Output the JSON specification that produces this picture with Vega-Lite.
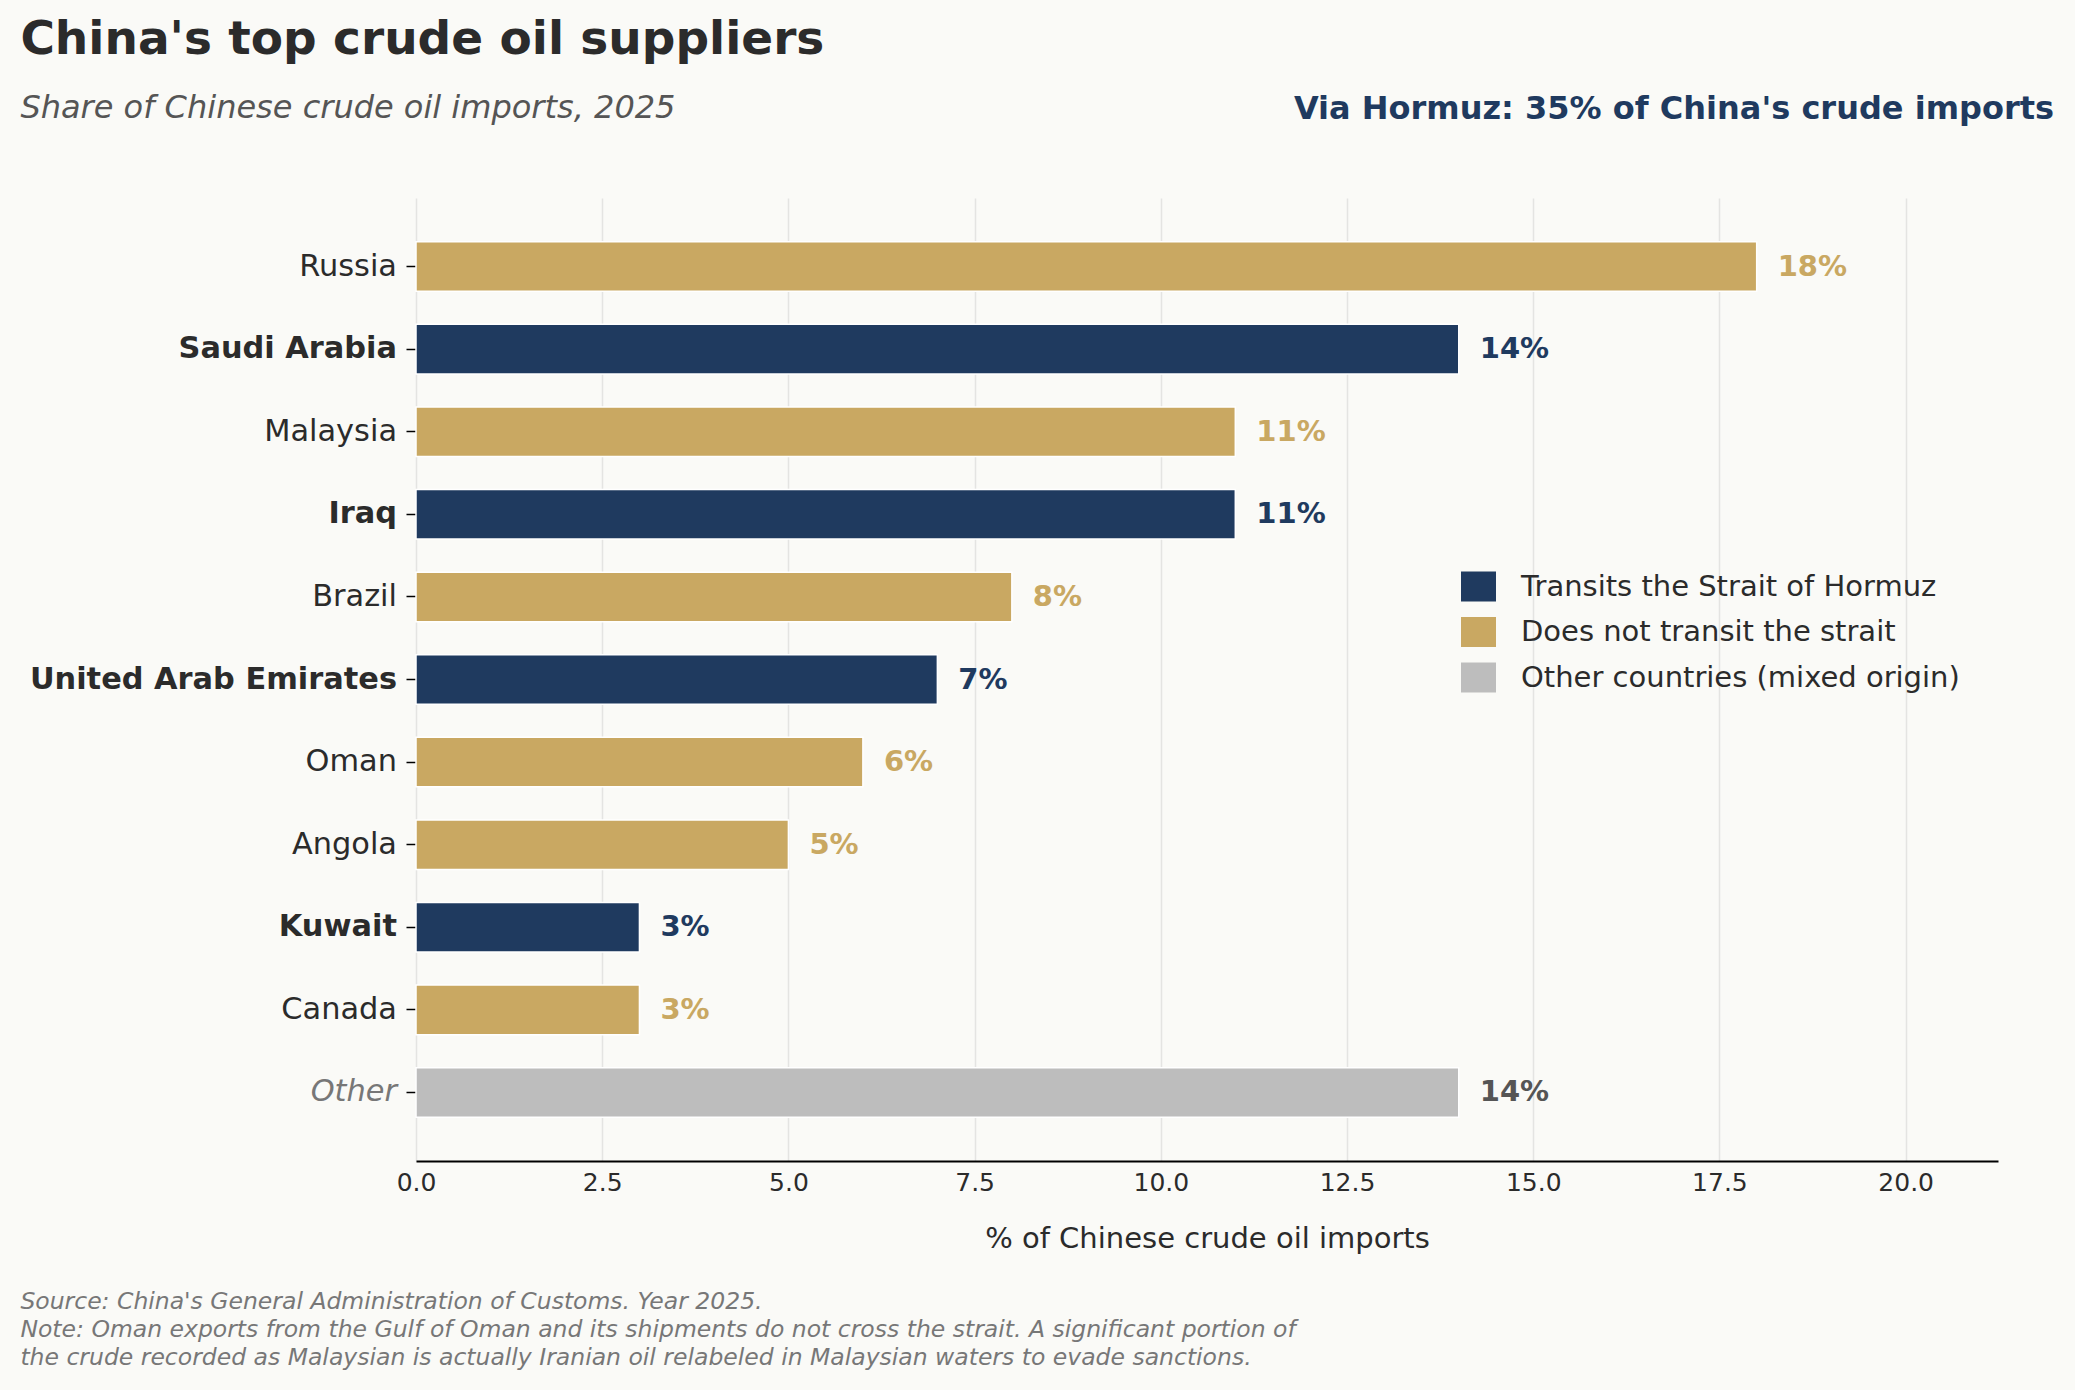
{
  "$schema": "https://vega.github.io/schema/vega-lite/v6.json",
  "background": "#fafaf7",
  "padding": {"left": 20, "top": 16, "right": 21, "bottom": 24},
  "title": {
    "text": [
      "Source: China's General Administration of Customs. Year 2025.",
      "Note: Oman exports from the Gulf of Oman and its shipments do not cross the strait. A significant portion of",
      "the crude recorded as Malaysian is actually Iranian oil relabeled in Malaysian waters to evade sanctions."
    ],
    "orient": "bottom",
    "anchor": "start",
    "frame": "bounds",
    "font": "DejaVu Sans",
    "fontSize": 23.5,
    "fontStyle": "italic",
    "fontWeight": "normal",
    "color": "#777777",
    "lineHeight": 28,
    "offset": 37
  },
  "vconcat": [
    {
      "title": {
        "text": "China's top crude oil suppliers",
        "subtitle": "Share of Chinese crude oil imports, 2025",
        "anchor": "start",
        "frame": "bounds",
        "font": "DejaVu Sans",
        "fontSize": 47,
        "fontWeight": "bold",
        "color": "#2b2b2b",
        "subtitleFont": "DejaVu Sans",
        "subtitleFontSize": 32,
        "subtitleFontStyle": "italic",
        "subtitleColor": "#555555",
        "subtitlePadding": 29,
        "dx": -9,
        "offset": -32
      },
      "vconcat": [
        {
          "title": {
            "text": "Via Hormuz: 35% of China's crude imports",
            "anchor": "end",
            "frame": "group",
            "font": "DejaVu Sans",
            "fontSize": 32,
            "fontWeight": "bold",
            "color": "#1f3a5f",
            "baseline": "alphabetic",
            "dx": 56,
            "offset": 47
          },
          "width": 1582,
          "height": 963,
          "data": {
            "values": [
              {"country": "Russia", "share": 18, "label": "18%", "route": "Does not transit the strait"},
              {"country": "Saudi Arabia", "share": 14, "label": "14%", "route": "Transits the Strait of Hormuz"},
              {"country": "Malaysia", "share": 11, "label": "11%", "route": "Does not transit the strait"},
              {"country": "Iraq", "share": 11, "label": "11%", "route": "Transits the Strait of Hormuz"},
              {"country": "Brazil", "share": 8, "label": "8%", "route": "Does not transit the strait"},
              {"country": "United Arab Emirates", "share": 7, "label": "7%", "route": "Transits the Strait of Hormuz"},
              {"country": "Oman", "share": 6, "label": "6%", "route": "Does not transit the strait"},
              {"country": "Angola", "share": 5, "label": "5%", "route": "Does not transit the strait"},
              {"country": "Kuwait", "share": 3, "label": "3%", "route": "Transits the Strait of Hormuz"},
              {"country": "Canada", "share": 3, "label": "3%", "route": "Does not transit the strait"},
              {"country": "Other", "share": 14, "label": "14%", "route": "Other countries (mixed origin)"}
            ]
          },
          "encoding": {
            "y": {
              "field": "country",
              "type": "nominal",
              "sort": null,
              "title": null,
              "scale": {"paddingInner": 0.4, "paddingOuter": 0.53},
              "axis": {
                "domain": false,
                "grid": false,
                "ticks": true,
                "tickSize": 10,
                "tickWidth": 1.5,
                "tickColor": "#000000",
                "labelPadding": 9.5,
                "labelLimit": 1000,
                "labelFont": "DejaVu Sans",
                "labelFontSize": 30.4,
                "labelColor": {
                  "condition": {"test": "datum.value === 'Other'", "value": "#777777"},
                  "value": "#2b2b2b"
                },
                "labelFontWeight": {
                  "condition": {"test": "indexof(['Saudi Arabia', 'Iraq', 'United Arab Emirates', 'Kuwait'], datum.value) >= 0", "value": "bold"},
                  "value": "normal"
                },
                "labelFontStyle": {
                  "condition": {"test": "datum.value === 'Other'", "value": "italic"},
                  "value": "normal"
                }
              }
            },
            "x": {
              "field": "share",
              "type": "quantitative",
              "title": "% of Chinese crude oil imports",
              "scale": {"domain": [0, 21.24], "nice": false, "zero": true},
              "axis": {
                "values": [0, 2.5, 5, 7.5, 10, 12.5, 15, 17.5, 20],
                "format": ".1f",
                "grid": true,
                "gridColor": "#e4e4e2",
                "gridWidth": 1.5,
                "ticks": false,
                "domain": true,
                "domainColor": "#000000",
                "domainWidth": 2,
                "labelPadding": 9,
                "labelFont": "DejaVu Sans",
                "labelFontSize": 25,
                "labelColor": "#2b2b2b",
                "labelFlush": false,
                "titleFont": "DejaVu Sans",
                "titleFontSize": 29,
                "titleFontWeight": "normal",
                "titleColor": "#2b2b2b",
                "titlePadding": 29
              }
            }
          },
          "layer": [
            {
              "mark": {"type": "bar", "stroke": "#ffffff", "strokeWidth": 1.5},
              "encoding": {
                "color": {
                  "field": "route",
                  "type": "nominal",
                  "scale": {
                    "domain": ["Transits the Strait of Hormuz", "Does not transit the strait", "Other countries (mixed origin)"],
                    "range": ["#1f3a5f", "#c9a862", "#bdbdbd"]
                  },
                  "legend": {
                    "title": null,
                    "orient": "none",
                    "legendX": 1045,
                    "legendY": 371,
                    "symbolType": "M-1,-0.857H1V0.857H-1Z",
                    "symbolSize": 1225,
                    "symbolStrokeWidth": 0,
                    "symbolOpacity": 1,
                    "labelFont": "DejaVu Sans",
                    "labelFontSize": 29,
                    "labelColor": "#2b2b2b",
                    "labelOffset": 25,
                    "rowPadding": 12.5,
                    "padding": 0,
                    "labelLimit": 800
                  }
                }
              }
            },
            {
              "mark": {
                "type": "text",
                "align": "left",
                "baseline": "middle",
                "dx": 21,
                "font": "DejaVu Sans",
                "fontSize": 29,
                "fontWeight": "bold"
              },
              "encoding": {
                "text": {"field": "label"},
                "color": {
                  "condition": [
                    {"test": "datum.route === 'Transits the Strait of Hormuz'", "value": "#1f3a5f"},
                    {"test": "datum.route === 'Does not transit the strait'", "value": "#c9a862"}
                  ],
                  "value": "#555555"
                }
              }
            }
          ]
        }
      ]
    }
  ],
  "config": {
    "view": {"stroke": null},
    "font": "DejaVu Sans"
  }
}
